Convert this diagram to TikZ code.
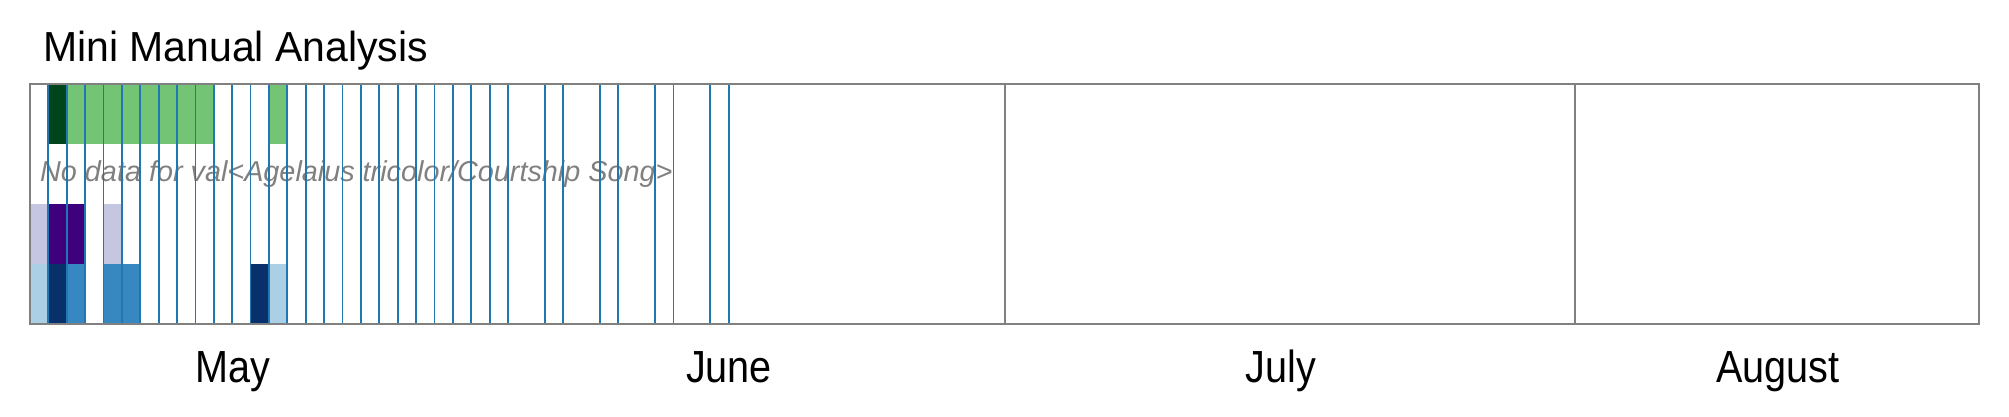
\documentclass[tikz,border=0pt]{standalone}
\usepackage{fontspec}
\setmainfont{Liberation Sans}
\newfontfamily\titlefnt[FakeStretch=0.975]{Liberation Sans}
\newfontfamily\monthfnt[FakeStretch=0.88]{Liberation Sans}
\definecolor{dkgreen}{HTML}{00441B}
\definecolor{ltgreen}{HTML}{74C476}
\definecolor{dkpurple}{HTML}{3F007D}
\definecolor{ltpurple}{HTML}{C5C6E2}
\definecolor{navyblue}{HTML}{08306B}
\definecolor{midblue}{HTML}{3787C0}
\definecolor{ltblue}{HTML}{ABD0E6}
\definecolor{tickblue}{HTML}{1F77B4}
\definecolor{framegray}{HTML}{808080}
\tikzset{
  framebox/.style={draw=framegray, line width=2pt},
  monthline/.style={draw=framegray, line width=2pt},
  dayline/.style={draw=tickblue, line width=1.8pt},
  monthlabel/.style={anchor=base, inner sep=0pt, font=\monthfnt\fontsize{45}{54}\selectfont},
  titlelabel/.style={anchor=base west, inner sep=0pt, font=\titlefnt\fontsize{42}{50}\selectfont},
  nodatalabel/.style={anchor=base west, inner sep=0pt, text=framegray, font=\itshape\fontsize{28.8}{34}\selectfont}
}
\begin{document}
\begin{tikzpicture}[x=1pt,y=-1pt]
\useasboundingbox (0,0) rectangle (2009,416);
\def\xo{29.9}
\def\dw{18.39}
% title
\node[titlelabel] (title) at (43,61) {Mini Manual Analysis};
% cells: column / row / colour
\foreach \c/\r/\col in {1/0/dkgreen,2/0/ltgreen,3/0/ltgreen,4/0/ltgreen,5/0/ltgreen,6/0/ltgreen,7/0/ltgreen,8/0/ltgreen,9/0/ltgreen,13/0/ltgreen,
  0/2/ltpurple,1/2/dkpurple,2/2/dkpurple,4/2/ltpurple,
  0/3/ltblue,1/3/navyblue,2/3/midblue,4/3/midblue,5/3/midblue,12/3/navyblue,13/3/ltblue}{
  \fill[\col] ({\xo+\c*\dw},{84+\r*60}) rectangle ({\xo+(\c+1)*\dw},{84+(\r+1)*60});
}
% no-data text
\node[nodatalabel] (nodata) at (40,181.7) {No data for val<Agelaius tricolor/Courtship Song>};
% month dividers
\foreach \k in {23,53,84}{
  \coordinate (mt\k) at ({\xo+\k*\dw},84);
  \coordinate (mb\k) at ({\xo+\k*\dw},324);
  \draw[monthline] (mt\k) -- (mb\k);
}
% day lines
\foreach \k in {1,...,26,28,29,31,32,34,35,37,38}{
  \coordinate (dt\k) at ({\xo+\k*\dw},84);
  \coordinate (db\k) at ({\xo+\k*\dw},324);
  \draw[dayline] (dt\k) -- (db\k);
}
% frame
\draw[framebox] ({\xo},84) rectangle ({\xo+106*\dw},324);
% month labels
\node[monthlabel] (may) at (232.7,382) {May};
\node[monthlabel] (june) at (729,382) {June};
\node[monthlabel] (july) at (1281,382) {July};
\node[monthlabel] (august) at (1778,382) {August};
\end{tikzpicture}
\end{document}
